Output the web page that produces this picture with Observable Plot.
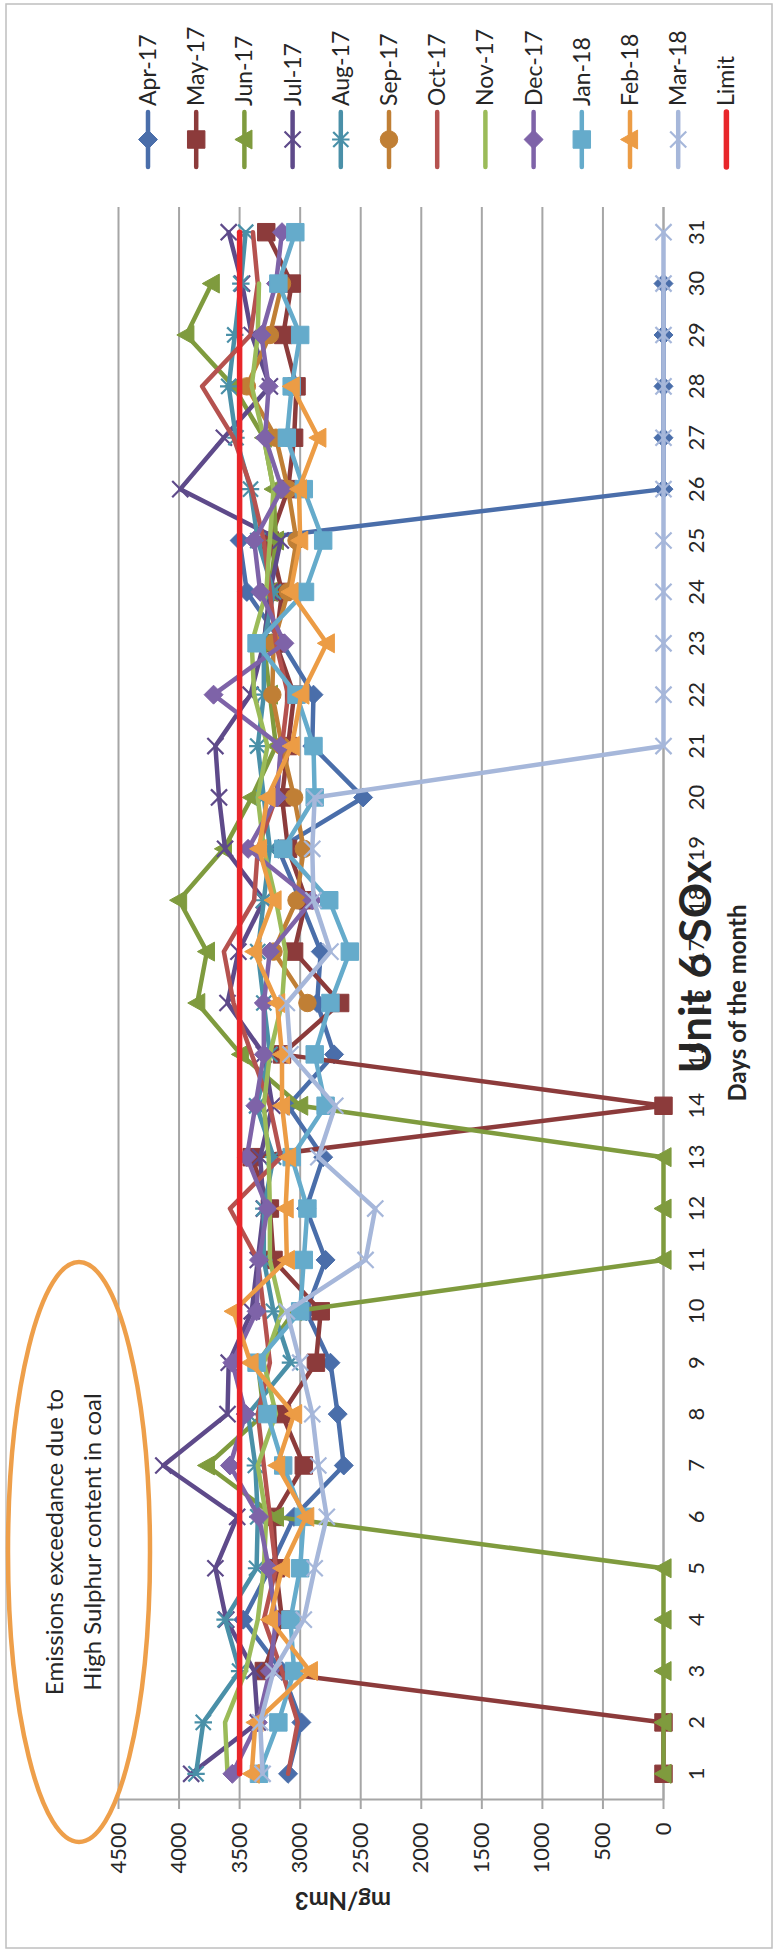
<!DOCTYPE html>
<html><head><meta charset="utf-8">
<script src="https://cdn.jsdelivr.net/npm/d3@7"></script>
<script src="https://cdn.jsdelivr.net/npm/@observablehq/plot@0.6"></script>
<style>
html,body{margin:0;padding:0;background:#fff;overflow:hidden;width:778px;height:1959px;}
#chart{position:absolute;left:0;top:0;width:1959px;height:778px;transform-origin:0 0;transform:translate(0px,1959px) rotate(-90deg);background:#fff;}
</style></head><body><div id="chart"></div>
<script>
const days = [1,2,3,4,5,6,7,8,9,10,11,12,13,14,15,16,17,18,19,20,21,22,23,24,25,26,27,28,29,30,31];
const valueTicks = [0,500,1000,1500,2000,2500,3000,3500,4000,4500];
const seriesNames = ["Apr-17","May-17","Jun-17","Jul-17","Aug-17","Sep-17","Oct-17","Nov-17","Dec-17","Jan-18","Feb-18","Mar-18","Limit"];
const seriesColors = ["#4A6EAA","#8C3B3B","#7F9B3E","#5E4A8A","#4A90A8","#C07F35","#B5524F","#9BBB59","#7E63A8","#65ABCB","#EC9C45","#A6B7DA","#E8262A"];
const seriesMarkers = ["diamond","square","triangle","times","star","circle",null,null,"diamond","square","triangle","times",null];

const apr17 = [3100,2990,3150,3470,3250,3050,2640,2690,2750,2950,2790,2950,2810,3100,2720,2860,2830,3000,3180,2480,2900,2890,3150,3440,3500,0,0,0,0,0];
const may17 = [0,0,3300,3150,3200,3220,2970,3150,2870,2830,3220,3250,3400,0,3150,2670,3050,2950,3100,3150,3100,3050,3200,3150,3250,3100,3050,3030,3140,3070,3280];
const jun17 = [0,0,0,0,0,3200,3770,3300,3350,3050,0,0,0,3000,3490,3850,3770,4000,3630,3400,3200,3250,3300,3250,3200,3220,3300,3550,3940,3730];
const jul17 = [3900,3350,3380,3610,3700,3520,4130,3600,3590,3400,3350,3300,3330,3230,3300,3600,3510,3300,3620,3670,3700,3410,3300,3250,3160,3990,3630,3250,3400,3480,3590];
const aug17 = [3860,3800,3500,3620,3360,3350,3370,3430,3080,3220,3300,3300,3220,3360,3250,3300,3350,3300,3250,3300,3350,3300,3300,3220,3350,3410,3530,3590,3540,3490,3450];
const sep17 = [null,null,null,null,null,null,null,null,null,null,null,null,null,null,null,2940,3220,3030,2970,3050,3150,3230,3220,3100,3030,3100,3200,3440,3250,3150];
const oct17 = [3100,3020,3150,3300,3200,3250,3300,3350,3250,3300,3350,3580,3160,3250,3400,3550,3630,3380,3350,3200,3150,3100,3200,3250,3300,3400,3550,3810,3410,3350,3390];
const nov17 = [3600,3620,3450,3350,3300,3280,3350,3200,3300,3150,3250,3250,3260,3300,3250,3150,3120,3200,3300,3350,3270,3380,3400,3280,3250,3220,3300,3400,3350,3340];
const dec17 = [3560,3350,3250,3200,3260,3340,3580,3450,3560,3360,3340,3270,3440,3370,3300,3300,3250,2900,3430,3190,3160,3715,3130,3330,3380,3150,3290,3260,3320,3200,3150];
const jan18 = [3340,3180,3050,3080,3000,2970,3140,3270,3360,3000,2970,2940,3070,2790,2880,2750,2590,2760,3140,2880,2890,3030,3360,2960,2810,2970,3110,3070,3000,3180,3040];
const feb18 = [3400,3370,2920,3250,3150,2950,3190,3050,3410,3550,3110,3120,3100,3150,3150,3190,3380,3220,3340,3270,3070,2990,2780,3080,3000,3010,2850,3070];
const mar18 = [3310,3330,3220,2970,2880,2780,2850,2900,3000,3110,2460,2380,2850,2710,3080,3110,2750,2890,2900,2880,0,0,0,0,0,0,0,0,0,0,0];
const limit = [3500,3500,3500,3500,3500,3500,3500,3500,3500,3500,3500,3500,3500,3500,3500,3500,3500,3500,3500,3500,3500,3500,3500,3500,3500,3500,3500,3500,3500,3500,3500];

const seriesValues = [apr17,may17,jun17,jul17,aug17,sep17,oct17,nov17,dec17,jan18,feb18,mar18,limit];

// Excel-like marker shapes (size = area passed by Plot)
const symbols = {
  diamond: {draw(c, s){const h=Math.sqrt(s)/2; c.moveTo(0,-h); c.lineTo(h,0); c.lineTo(0,h); c.lineTo(-h,0); c.closePath();}},
  square: {draw(c, s){const h=Math.sqrt(s)/2*0.92; c.rect(-h,-h,2*h,2*h);}},
  triangle: {draw(c, s){const h=Math.sqrt(s)/2; c.moveTo(0,-h); c.lineTo(h,h*0.8); c.lineTo(-h,h*0.8); c.closePath();}},
  circle: {draw(c, s){const h=Math.sqrt(s)/2*0.92; c.moveTo(h,0); c.arc(0,0,h,0,2*Math.PI); c.closePath();}},
  times: {draw(c, s){const h=Math.sqrt(s)/2*0.85; c.moveTo(-h,-h); c.lineTo(h,h); c.moveTo(h,-h); c.lineTo(-h,h);}},
  star: {draw(c, s){const h=Math.sqrt(s)/2*0.8; c.moveTo(-h,-h); c.lineTo(h,h); c.moveTo(h,-h); c.lineTo(-h,h); c.moveTo(0,-h*1.15); c.lineTo(0,h*1.15);}}
};
const strokedMarkers = new Set(["times","star"]);
const R = 10.7;
const GRID = "#a6a6a6";
const INK = "#262626";
const FONT = "Lato, 'Open Sans', sans-serif";

const marks = [
  Plot.gridY(valueTicks, {stroke: GRID, strokeOpacity: 1, strokeWidth: 2}),
  Plot.ruleX([0.5], {stroke: GRID, strokeWidth: 2}),
  Plot.ruleY([0], {stroke: GRID, strokeWidth: 2}),
  Plot.axisY({ticks: valueTicks, tickSize: 9, tickPadding: 14, fontSize: 22, stroke: GRID, strokeWidth: 2, fill: INK, label: null, tickFormat: d => String(d)}),
  Plot.axisX({ticks: days, tickSize: 0, tickPadding: 25, fontSize: 22, fill: INK, label: null, tickFormat: d => String(d)}),
  Plot.text(["mg/Nm3"], {frameAnchor: "left", dx: -100, rotate: -90, fontSize: 24, fontWeight: "bold", fill: INK, lineAnchor: "middle"}),
  Plot.text(["Days of the month"], {frameAnchor: "bottom", dy: 75, fontSize: 24, fontWeight: "bold", fill: INK, lineAnchor: "middle"})
];

seriesNames.forEach((name, i) => {
  const rows = [];
  seriesValues[i].forEach((v, j) => { if (v !== null) rows.push({series: name, day: days[j], value: v}); });
  const color = seriesColors[i];
  marks.push(Plot.line(rows, {x: "day", y: "value", stroke: color, strokeWidth: name === "Limit" ? 5.5 : 4.5, strokeLinejoin: "round", strokeLinecap: "round"}));
  const m = seriesMarkers[i];
  if (m) {
    if (strokedMarkers.has(m)) {
      marks.push(Plot.dot(rows, {x: "day", y: "value", symbol: symbols[m], r: R, fill: "none", stroke: color, strokeWidth: 2.2}));
    } else {
      marks.push(Plot.dot(rows, {x: "day", y: "value", symbol: symbols[m], r: R, fill: color, stroke: color, strokeWidth: 1}));
    }
  }
});

marks.push(Plot.text(["Unit 6 SOx"], {frameAnchor: "bottom", dy: 33, dx: 36, fontSize: 44, fontWeight: "bold", fill: INK, lineAnchor: "middle"}));

const chart = Plot.plot({
  width: 1959, height: 778,
  marginLeft: 159, marginRight: 207, marginTop: 118, marginBottom: 115,
  style: {fontFamily: FONT, color: INK, background: "#fff", overflow: "visible"},
  x: {type: "linear", domain: [0.5, 31.5]},
  y: {type: "linear", domain: [0, 4500]},
  marks
});

const svg = d3.select(chart);
// outer chart border
svg.insert("rect", ":first-child").attr("x", 11).attr("y", 6).attr("width", 1944).attr("height", 766)
  .attr("fill", "none").attr("stroke", "#bfbfbf").attr("stroke-width", 1.5);

// legend
const lg = svg.append("g").attr("font-family", FONT).attr("font-size", 23).attr("fill", INK).attr("text-anchor", "start");
seriesNames.forEach((name, i) => {
  const Y = 148 + i * 48.2;
  const color = seriesColors[i];
  lg.append("line").attr("x1", 1792).attr("x2", 1847).attr("y1", Y).attr("y2", Y)
    .attr("stroke", color).attr("stroke-width", name === "Limit" ? 5.5 : 4.5).attr("stroke-linecap", "round");
  const m = seriesMarkers[i];
  if (m) {
    const p = d3.path();
    symbols[m].draw(p, R * R * Math.PI);
    const stroked = strokedMarkers.has(m);
    lg.append("path").attr("d", p.toString()).attr("transform", `translate(1819.5,${Y})`)
      .attr("fill", stroked ? "none" : color).attr("stroke", color).attr("stroke-width", stroked ? 2.2 : 1);
  }
  lg.append("text").attr("x", 1853).attr("y", Y).attr("dy", "0.35em").attr("text-anchor", "start").text(name);
});

// annotation
const an = svg.append("g");
an.append("ellipse").attr("cx", 407).attr("cy", 79).attr("rx", 290).attr("ry", 71)
  .attr("fill", "none").attr("stroke", "#EE9F4A").attr("stroke-width", 4.5);
an.append("text").attr("x", 417).attr("y", 55).attr("dy", "0.35em").attr("text-anchor", "middle")
  .attr("font-family", FONT).attr("font-size", 24).attr("fill", INK).text("Emissions exceedance due to");
an.append("text").attr("x", 417).attr("y", 93).attr("dy", "0.35em").attr("text-anchor", "middle")
  .attr("font-family", FONT).attr("font-size", 24).attr("fill", INK).text("High Sulphur content in coal");

document.getElementById("chart").appendChild(chart);
</script></body></html>
